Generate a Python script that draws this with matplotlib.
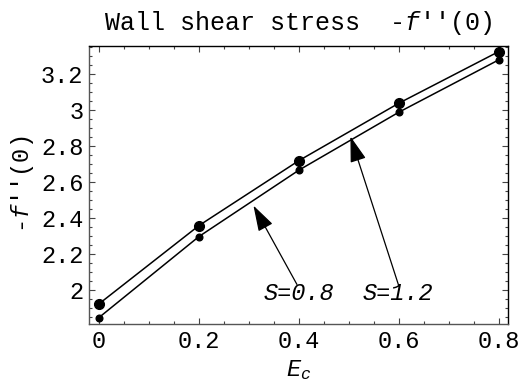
import numpy as np
import matplotlib
matplotlib.use("Agg")
import matplotlib.pyplot as plt
from matplotlib.ticker import MultipleLocator, FixedLocator, FixedFormatter

plt.rcParams['font.family'] = ['Liberation Mono', 'DejaVu Sans Mono']
plt.rcParams['mathtext.fontset'] = 'custom'
plt.rcParams['mathtext.rm'] = 'Liberation Mono'
plt.rcParams['mathtext.it'] = 'Liberation Mono:italic'

# data
ec = [0.0, 0.2, 0.4, 0.6, 0.8]
s12 = [1.922, 2.357, 2.718, 3.037, 3.324]   # S=1.2, upper
s08 = [1.846, 2.296, 2.665, 2.987, 3.278]   # S=0.8, lower

xticks = [0, 0.2, 0.4, 0.6, 0.8]
xlabels = ["0", "0.2", "0.4", "0.6", "0.8"]
yticks = [2, 2.2, 2.4, 2.6, 2.8, 3, 3.2]
ylabels = ["2", "2.2", "2.4", "2.6", "2.8", "3", "3.2"]

fig = plt.figure(figsize=(5.21, 3.83), dpi=100)
ax = fig.add_axes([0.1708, 0.154, 0.804, 0.727])

ax.plot(ec, s12, color='k', lw=1.1, marker='o', ms=7, zorder=3)
ax.plot(ec, s08, color='k', lw=1.1, marker='o', ms=4.8, zorder=3)

ax.set_xlim(-0.02, 0.818)
ax.set_ylim(1.81, 3.357)

ax.xaxis.set_major_locator(FixedLocator(xticks))
ax.xaxis.set_major_formatter(FixedFormatter(xlabels))
ax.yaxis.set_major_locator(FixedLocator(yticks))
ax.yaxis.set_major_formatter(FixedFormatter(ylabels))
ax.xaxis.set_minor_locator(MultipleLocator(0.05))
ax.yaxis.set_minor_locator(MultipleLocator(0.05))
ax.tick_params(which='both', direction='in', top=True, right=True,
               labelsize=17, width=0.8, color='#444444')
ax.tick_params(which='major', length=4, pad=4)
ax.tick_params(which='minor', length=2.2)
for sp in ax.spines.values():
    sp.set_linewidth(1.0)
ax.spines['left'].set_color('#555555')
ax.spines['bottom'].set_color('#555555')

ax.set_title("Wall shear stress  -$f$''(0)", fontsize=18, pad=11)
ax.set_xlabel(r"$E_c$", fontsize=17, labelpad=4)
ax.set_ylabel("-$f$''(0)", fontsize=17, labelpad=4)

arrow = dict(arrowstyle='-|>,head_length=0.8,head_width=0.25',
             mutation_scale=20, color='k', lw=0.9, shrinkA=0, shrinkB=0)
ax.annotate("", xy=(0.309, 2.468), xytext=(0.396, 2.03), arrowprops=arrow)
ax.annotate("", xy=(0.503, 2.852), xytext=(0.600, 2.02), arrowprops=arrow)
ax.text(0.399, 1.98, "S=0.8", fontsize=17, style='italic', ha='center', va='center')
ax.text(0.598, 1.98, "S=1.2", fontsize=17, style='italic', ha='center', va='center')

fig.savefig("out.png", dpi=100)
